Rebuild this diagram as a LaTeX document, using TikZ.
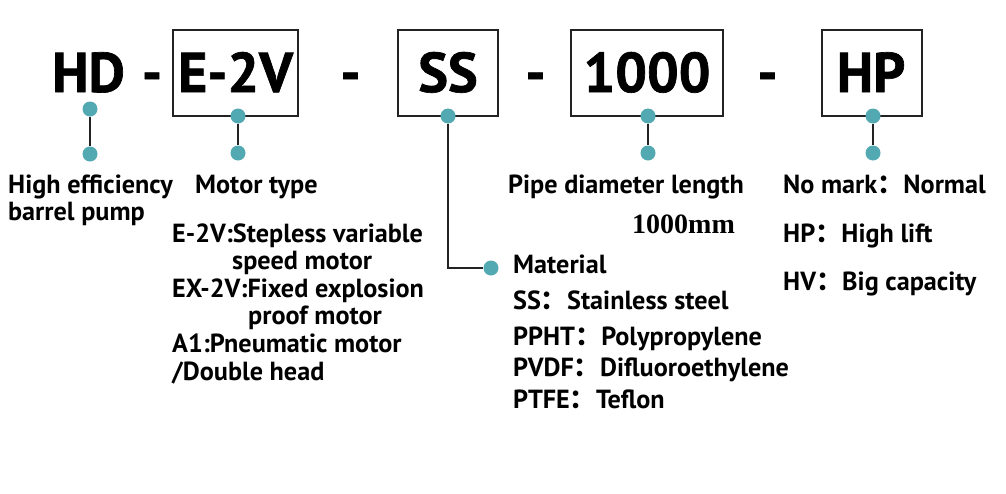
\documentclass[tikz,border=0pt]{standalone}
\usepackage{fontspec}
\setmainfont{PT Sans}
\newfontfamily\headfont{PT Sans}[FakeBold=1.2]
\newfontfamily\cjk{Noto Sans CJK SC}
\newfontfamily\serifb{Liberation Serif}
\newcommand{\fc}{{\cjk ：}}
\definecolor{dotc}{HTML}{52A9B2}
\definecolor{linec}{HTML}{222222}
\tikzset{
  dotn/.style={circle, fill=dotc, inner sep=0pt, minimum size=15pt},
  codebox/.style={draw=linec, line width=1.7pt, inner sep=0pt, minimum height=86pt},
  codetxt/.style={anchor=base, inner sep=0pt, font=\headfont\fontsize{56}{60}\selectfont\bfseries},
  lbl/.style={anchor=base west, inner sep=0pt, font=\fontsize{26.2}{30}\selectfont\bfseries},
  conn/.style={draw=linec, line width=1.8pt},
}
\begin{document}
\begin{tikzpicture}[x=1pt,y=-1pt]
\useasboundingbox (0,0) rectangle (1006,493);
% code boxes
\node[codebox, minimum width=125pt] (b1) at (235.5,73) {};
\node[codebox, minimum width=100pt] (b2) at (448,73) {};
\node[codebox, minimum width=152pt] (b3) at (647,73) {};
\node[codebox, minimum width=100pt] (b4) at (872,73) {};
% code texts
\node[codetxt] (hd) at (88.5,92) {HD};
\node[codetxt] (t1) at (235.5,92) {E-2V};
\node[codetxt] (t2) at (448,92) {SS};
\node[codetxt] (t3) at (647,92) {1000};
\node[codetxt] (t4) at (871,92) {HP};
\node[codetxt] (d1) at (152,92) {-};
\node[codetxt] (d2) at (350.5,92) {-};
\node[codetxt] (d3) at (535.5,92) {-};
\node[codetxt] (d4) at (767.5,92) {-};
% dots
\node[dotn] (p0a) at (90,109) {};
\node[dotn] (p0b) at (90,154) {};
\node[dotn] (p1a) at (238,116) {};
\node[dotn] (p1b) at (238,153) {};
\node[dotn] (p2a) at (448,116) {};
\node[dotn] (p2b) at (491,268) {};
\node[dotn] (p3a) at (648,116) {};
\node[dotn] (p3b) at (648,153) {};
\node[dotn] (p4a) at (873,116) {};
\node[dotn] (p4b) at (873,153) {};
\coordinate (corner) at (448,268);
% connectors
\draw[conn] (p0a) -- (p0b);
\draw[conn] (p1a) -- (p1b);
\draw[conn] (p2a) -- (corner) -- (p2b);
\draw[conn] (p3a) -- (p3b);
\draw[conn] (p4a) -- (p4b);
% labels
\node[lbl] (l0a) at (8,193) {High efficiency};
\node[lbl] (l0b) at (8,220) {barrel pump};
\node[lbl] (l1) at (195,193) {Motor type};
\node[lbl] (m1) at (172,242) {E-2V:Stepless variable};
\node[lbl] (m2) at (232,269) {speed motor};
\node[lbl] (m3) at (172,297) {EX-2V:Fixed explosion};
\node[lbl] (m4) at (248,324) {proof motor};
\node[lbl] (m5) at (172,352) {A1:Pneumatic motor};
\node[lbl] (m6) at (172,380) {/Double head};
\node[lbl] (s0) at (513,273) {Material};
\node[lbl] (s1) at (513,309) {SS\fc Stainless steel};
\node[lbl] (s2) at (513,345) {PPHT\fc Polypropylene};
\node[lbl] (s3) at (513,376) {PVDF\fc Difluoroethylene};
\node[lbl] (s4) at (513,408) {PTFE\fc Teflon};
\node[lbl] (l3) at (508,193) {Pipe diameter length};
\node[anchor=base west, inner sep=0pt, font=\serifb\fontsize{28}{32}\selectfont\bfseries] (mm) at (632,233) {1000mm};
\node[lbl] (r1) at (783,193) {No mark\fc Normal};
\node[lbl] (r2) at (783,242) {HP\fc High lift};
\node[lbl] (r3) at (783,290) {HV\fc Big capacity};
\end{tikzpicture}
\end{document}
